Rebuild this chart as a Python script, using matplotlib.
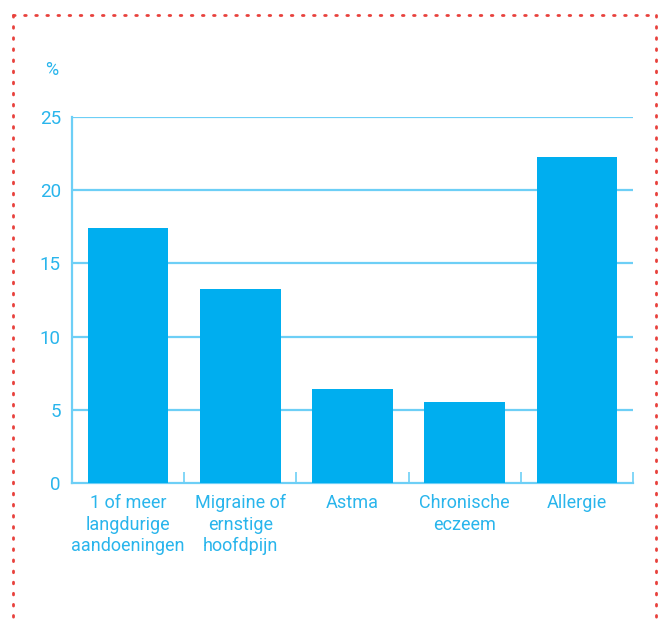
import matplotlib.pyplot as plt
from matplotlib.lines import Line2D
import numpy as np

categories = ["1 of meer\nlangdurige\naandoeningen", "Migraine of\nernstige\nhoofdpijn",
              "Astma", "Chronische\neczeem", "Allergie"]
values = [17.4, 13.25, 6.4, 5.5, 22.3]
yticks = [0, 5, 10, 15, 20, 25]

bar_col = "#00AEEF"
grid_col = "#6DCFF6"
text_col = "#29B5EC"

plt.rcParams['font.family'] = ['Roboto', 'DejaVu Sans']

fig = plt.figure(figsize=(6.58, 6.26), dpi=100)
ax = fig.add_axes([72/658, 1 - 483/626, 561/658, 366/626])

x = np.arange(len(categories))
ax.bar(x, values, width=0.72, color=bar_col, zorder=3)

ax.set_xlim(-0.5, len(categories) - 0.5)
ax.set_ylim(0, 25)
ax.set_yticks(yticks)
for y in yticks[1:]:
    ax.axhline(y, color=grid_col, lw=1.6, zorder=1)

for s in ["top", "right"]:
    ax.spines[s].set_visible(False)
for s in ["left", "bottom"]:
    ax.spines[s].set_color(grid_col)
    ax.spines[s].set_linewidth(1.6)

# category separators as small ticks on the baseline
ax.set_xticks(x + 0.5, minor=True)
ax.tick_params(axis="x", which="minor", direction="in", length=8, width=1.2, color=grid_col)
ax.set_xticks(x)
ax.set_xticklabels(categories, color=text_col, fontsize=13, linespacing=1.25)
ax.tick_params(axis="x", which="major", length=0, pad=8)
ax.tick_params(axis="y", length=0, pad=8, labelsize=13.5, labelcolor=text_col)

fig.text(52/658, 1 - 70/626, "%", color=text_col, fontsize=13, ha="center", va="center")

# dotted red frame
red = "#E8413C"
kw = dict(color=red, lw=2, linestyle=(0, (0.6, 3.4)), dash_capstyle="round", transform=fig.transFigure)
fig.add_artist(Line2D([13/658, 656/658], [1 - 15/626, 1 - 15/626], **kw))
fig.add_artist(Line2D([13/658, 13/658], [1 - 15/626, 0], **kw))
fig.add_artist(Line2D([656/658, 656/658], [1 - 15/626, 0], **kw))

fig.savefig("out.png", dpi=100)
